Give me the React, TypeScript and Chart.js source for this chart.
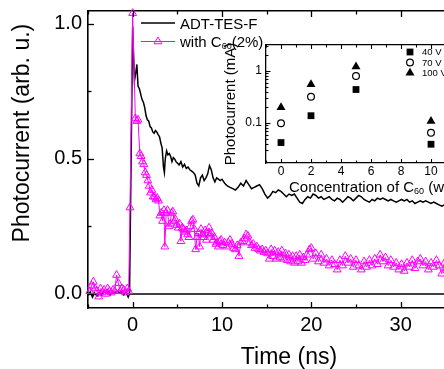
import React, { useEffect, useRef } from 'react';
import { Chart, registerables } from 'chart.js';

Chart.register(...registerables);

const FONT = '"Liberation Sans", Arial, Helvetica, sans-serif';

// ---------- Main panel data: transient photocurrent ----------
const timeA = [
  -5.0, -4.75, -4.5, -4.25, -4.0, -3.75, -3.5, -3.25, -3.0, -2.75, -2.5, -2.25, -2.0, -1.75, -1.5, -1.25, -1.0, -0.75, -0.5, -0.35,
  0.0, 0.1, 0.2, 0.35, 0.47, 0.6, 0.75, 0.9, 1.05, 1.2, 1.35, 1.5, 1.65, 1.8, 1.95, 2.1, 2.25, 2.4, 2.55, 2.7, 2.85, 3.0, 3.15, 3.3, 3.45, 3.55, 3.65, 3.8, 3.95, 4.1, 4.25, 4.4, 4.55, 4.7, 4.85,
  5.0, 5.2, 5.4, 5.6, 5.8, 6.0, 6.2, 6.4, 6.6, 6.8, 7.0, 7.2, 7.4, 7.6, 7.8, 8.0, 8.2, 8.4, 8.6, 8.8, 9.0, 9.2, 9.4, 9.6, 9.8,
  10.0, 10.3, 10.6, 10.9, 11.2, 11.5, 11.8, 12.1, 12.4, 12.7, 13.0, 13.3, 13.6, 13.9, 14.2, 14.5, 14.8, 15.1, 15.4, 15.7, 16.0, 16.3, 16.6, 16.9, 17.2, 17.5, 17.8, 18.1, 18.4, 18.7, 19.0, 19.3, 19.6, 19.9,
  20.2, 20.5, 20.8, 21.1, 21.4, 21.7, 22.0, 22.3, 22.6, 22.9, 23.2, 23.5, 23.8, 24.1, 24.4, 24.7, 25.0, 25.3, 25.6, 25.9, 26.2, 26.5, 26.8, 27.1, 27.4, 27.7, 28.0, 28.3, 28.6, 28.9, 29.2, 29.5, 29.8,
  30.1, 30.4, 30.7, 31.0, 31.3, 31.6, 31.9, 32.2, 32.5, 32.8, 33.1, 33.4, 33.7, 34.0, 34.3, 34.6, 34.9, 35.2, 35.5, 36.0, 36.5, 37.0, 37.5, 38.0, 38.5, 39.0, 39.5, 40.0,
];
const signalA = [
  -0.005, 0.008, -0.012, 0.004, -0.008, 0.006, -0.004, 0.010, 0.002, 0.009, -0.003, 0.008, 0.003, 0.011, 0.004, 0.009, -0.004, 0.007, -0.012, 0.0,
  0.99, 0.88, 0.79, 0.82, 0.85, 0.77, 0.76, 0.74, 0.72, 0.71, 0.69, 0.66, 0.645, 0.64, 0.62, 0.615, 0.60, 0.595, 0.605, 0.60, 0.59, 0.583, 0.56, 0.54, 0.47, 0.45, 0.50, 0.53, 0.515, 0.52, 0.51, 0.49, 0.505, 0.50, 0.49,
  0.485, 0.478, 0.49, 0.47, 0.48, 0.465, 0.47, 0.46, 0.455, 0.45, 0.44, 0.41, 0.40, 0.43, 0.44, 0.42, 0.43, 0.445, 0.475, 0.46, 0.43, 0.415, 0.43, 0.425, 0.42,
  0.425, 0.41, 0.40, 0.395, 0.39, 0.385, 0.395, 0.41, 0.40, 0.42, 0.405, 0.39, 0.395, 0.40, 0.405, 0.39, 0.37, 0.355, 0.365, 0.38, 0.375, 0.385, 0.38, 0.37, 0.36, 0.37, 0.365, 0.37, 0.355, 0.34, 0.335, 0.35, 0.36, 0.355,
  0.37, 0.365, 0.355, 0.36, 0.35, 0.355, 0.36, 0.35, 0.345, 0.355, 0.35, 0.34, 0.35, 0.36, 0.355, 0.345, 0.355, 0.365, 0.36, 0.35, 0.345, 0.34, 0.35, 0.345, 0.355, 0.35, 0.355, 0.35, 0.345, 0.35, 0.345, 0.34, 0.345,
  0.35, 0.345, 0.35, 0.34, 0.345, 0.335, 0.34, 0.345, 0.34, 0.345, 0.34, 0.335, 0.34, 0.335, 0.33, 0.325, 0.33, 0.325, 0.33, 0.33, 0.325, 0.33, 0.32, 0.325, 0.32, 0.325, 0.32, 0.32,
];

const timeB = [
  -4.8, -4.6, -4.4, -4.2, -4.0, -3.8, -3.6, -3.4, -3.2, -3.0, -2.8, -2.6, -2.4, -2.2, -2.0, -1.8, -1.6, -1.4, -1.2, -1.0, -0.8, -0.6, -0.45, -0.3,
  0.0, 0.3, 0.45, 0.6, 0.8, 0.95, 1.1, 1.25, 1.4, 1.55, 1.7, 1.85, 2.0, 2.15, 2.3, 2.45, 2.6, 2.75, 2.9, 3.05, 3.2, 3.35, 3.5, 3.6, 3.75, 3.9, 4.05, 4.2, 4.35, 4.5, 4.65, 4.8, 4.95,
  5.1, 5.25, 5.4, 5.55, 5.7, 5.85, 6.0, 6.15, 6.3, 6.45, 6.6, 6.75, 6.9, 7.05, 7.2, 7.35, 7.5, 7.65, 7.8, 7.95, 8.1, 8.25, 8.4, 8.55, 8.7, 8.85, 9.0, 9.15, 9.3, 9.45, 9.6, 9.75, 9.9,
  10.1, 10.3, 10.5, 10.7, 10.9, 11.1, 11.3, 11.5, 11.7, 11.9, 12.1, 12.3, 12.5, 12.7, 12.9, 13.1, 13.3, 13.5, 13.7, 13.9, 14.1, 14.3, 14.5, 14.7, 14.9,
  15.1, 15.3, 15.5, 15.7, 15.9, 16.1, 16.3, 16.5, 16.7, 16.9, 17.1, 17.3, 17.5, 17.7, 17.9, 18.1, 18.3, 18.5, 18.7, 18.9, 19.1, 19.3, 19.5, 19.8,
  20.0, 20.2, 20.5, 20.8, 21.1, 21.4, 21.7, 22.0, 22.3, 22.6, 22.9, 23.2, 23.5, 23.8, 24.1, 24.4, 24.7, 25.0, 25.3, 25.6, 25.9, 26.2, 26.5, 26.8, 27.1, 27.4, 27.7,
  28.0, 28.3, 28.6, 28.9, 29.2, 29.5, 29.8, 30.1, 30.4, 30.7, 31.0, 31.3, 31.6, 31.9, 32.2, 32.5, 32.8, 33.1, 33.4, 33.7, 34.0, 34.3, 34.6, 34.9, 35.2, 35.5,
  36.0, 36.5, 37.0, 37.5, 38.0, 38.5, 39.0, 39.5, 40.0,
];
const signalB = [
  0.01, 0.03, 0.045, 0.02, 0.01, -0.01, 0.02, 0.005, 0.015, 0.0, 0.02, 0.01, 0.005, 0.015, 0.01, 0.07, 0.04, 0.01, 0.02, 0.015, 0.005, 0.02, 0.01, 0.32,
  1.04, 0.65, 0.64, 0.645, 0.52, 0.51, 0.49, 0.48, 0.45, 0.44, 0.42, 0.40, 0.375, 0.385, 0.36, 0.36, 0.35, 0.355, 0.345, 0.29, 0.30, 0.27, 0.31, 0.175, 0.30, 0.31, 0.25, 0.26, 0.30, 0.305, 0.27, 0.275, 0.255,
  0.245, 0.26, 0.195, 0.245, 0.24, 0.23, 0.235, 0.22, 0.21, 0.25, 0.27, 0.275, 0.24, 0.165, 0.21, 0.225, 0.175, 0.24, 0.22, 0.21, 0.235, 0.20, 0.225, 0.245, 0.22, 0.225, 0.20, 0.21, 0.185, 0.19, 0.175, 0.195, 0.20,
  0.18, 0.19, 0.175, 0.19, 0.20, 0.185, 0.17, 0.165, 0.18, 0.14, 0.19, 0.195, 0.205, 0.22, 0.215, 0.19, 0.18, 0.185, 0.17, 0.175, 0.165, 0.16, 0.165, 0.155, 0.16,
  0.15, 0.13, 0.165, 0.14, 0.16, 0.13, 0.155, 0.135, 0.16, 0.13, 0.15, 0.125, 0.145, 0.12, 0.14, 0.115, 0.14, 0.12, 0.145, 0.115, 0.135, 0.125, 0.145, 0.165,
  0.17, 0.13, 0.15, 0.12, 0.145, 0.115, 0.13, 0.105, 0.125, 0.11, 0.09, 0.125, 0.105, 0.14, 0.115, 0.13, 0.10, 0.125, 0.105, 0.09, 0.12, 0.10, 0.125, 0.105, 0.13, 0.11, 0.145,
  0.12, 0.135, 0.105, 0.125, 0.10, 0.115, 0.09, 0.11, 0.085, 0.115, 0.10, 0.125, 0.095, 0.12, 0.13, 0.105, 0.12, 0.09, 0.115, 0.10, 0.125, 0.105, 0.075, 0.115, 0.095, 0.11,
  0.10, 0.11, 0.095, 0.105, 0.10, 0.095, 0.10, 0.09, 0.095,
];

const baselineTime = [-0.35, 40];
const baselineValue = [0, 0];

const seriesNames = ['ADT-TES-F', 'with C', '60', '(2%)'];
const xMajorTicks = [0, 10, 20, 30, 40];
const yMajorTicks = [0, 0.5, 1.0];

// ---------- Inset data: photocurrent vs C60 concentration ----------
const concentration = [0, 2, 5, 10];
const current40V = [0.042, 0.138, 0.44, 0.039];
const current70V = [0.099, 0.32, 0.80, 0.065];
const current100V = [0.20, 0.55, 1.21, 0.108];
const insetSeriesNames = ['40 V', '70 V', '100 V'];
const insetXLabelTicks = [0, 2, 4, 6, 8, 10, 12];
const insetYLabelTicks = [0.1, 1];

const near = (a: number, b: number) => Math.abs(a - b) < 1e-9;
const toXY = (xs: number[], ys: number[]) => xs.map((x, i) => ({ x, y: ys[i] }));

function drawMarker(ctx: CanvasRenderingContext2D, style: string, x: number, y: number, r: number, fill: string | null, stroke: string, lw: number) {
  ctx.beginPath();
  if (style === 'triangle') {
    ctx.moveTo(x, y - r);
    ctx.lineTo(x + 0.866 * r, y + 0.5 * r);
    ctx.lineTo(x - 0.866 * r, y + 0.5 * r);
    ctx.closePath();
  } else if (style === 'rect') {
    const s = Math.SQRT1_2 * r;
    ctx.rect(x - s, y - s, 2 * s, 2 * s);
  } else {
    ctx.arc(x, y, r, 0, Math.PI * 2);
  }
  if (fill) { ctx.fillStyle = fill; ctx.fill(); }
  if (lw > 0) { ctx.strokeStyle = stroke; ctx.lineWidth = lw; ctx.stroke(); }
}

function drawRich(ctx: CanvasRenderingContext2D, parts: { text: string; size: number; dy: number }[], x: number, y: number) {
  let cx = x;
  ctx.textAlign = 'left';
  ctx.textBaseline = 'alphabetic';
  ctx.fillStyle = '#000';
  for (const p of parts) {
    ctx.font = `${p.size}px ${FONT}`;
    ctx.fillText(p.text, cx, y + p.dy);
    cx += ctx.measureText(p.text).width;
  }
}

type TickSpec = { scale: string; sides: string[]; isMajor: (v: number) => boolean; keep: (v: number) => boolean; major: number; minor: number };

function makeTickPlugin(id: string, specs: TickSpec[], lw: number) {
  return {
    id,
    afterDatasetsDraw(chart: any) {
      const { ctx, chartArea: a } = chart;
      ctx.save();
      ctx.strokeStyle = '#000';
      ctx.lineWidth = lw;
      for (const spec of specs) {
        const scale = chart.scales[spec.scale];
        for (const t of scale.ticks) {
          const v = t.value;
          if (!spec.keep(v)) continue;
          const len = spec.isMajor(v) ? spec.major : spec.minor;
          const p = Math.round(scale.getPixelForValue(v)) + 0.5;
          for (const side of spec.sides) {
            ctx.beginPath();
            if (side === 'bottom') { ctx.moveTo(p, a.bottom); ctx.lineTo(p, a.bottom - len); }
            else if (side === 'top') { ctx.moveTo(p, a.top); ctx.lineTo(p, a.top + len); }
            else if (side === 'left') { ctx.moveTo(a.left, p); ctx.lineTo(a.left + len, p); }
            ctx.stroke();
          }
        }
      }
      ctx.restore();
    },
  };
}

const mainLegendPlugin = {
  id: 'mainLegend',
  afterDatasetsDraw(chart: any) {
    const { ctx, chartArea: a } = chart;
    const dsA = chart.data.datasets[0];
    const dsB = chart.data.datasets[1];
    const x0 = a.left + 53;
    const x1 = a.left + 87;
    const tx = a.left + 92;
    ctx.save();
    // row 1
    let y = a.top + 12;
    ctx.strokeStyle = dsA.borderColor;
    ctx.lineWidth = dsA.borderWidth;
    ctx.beginPath(); ctx.moveTo(x0, y); ctx.lineTo(x1, y); ctx.stroke();
    drawRich(ctx, [{ text: seriesNames[0], size: 15, dy: 0 }], tx, y + 5.5);
    // row 2
    y = a.top + 30.5;
    ctx.strokeStyle = dsB.borderColor;
    ctx.lineWidth = dsB.borderWidth;
    ctx.beginPath(); ctx.moveTo(x0, y); ctx.lineTo(x1, y); ctx.stroke();
    drawMarker(ctx, 'triangle', (x0 + x1) / 2, y, dsB.pointRadius, null, dsB.pointBorderColor, 1);
    drawRich(ctx, [
      { text: seriesNames[1], size: 15, dy: 0 },
      { text: seriesNames[2], size: 9, dy: 2 },
      { text: seriesNames[3], size: 15, dy: 0 },
    ], tx, y + 5.5);
    ctx.restore();
  },
};

const insetExtrasPlugin = {
  id: 'insetExtras',
  afterDatasetsDraw(chart: any) {
    const { ctx, chartArea: a } = chart;
    ctx.save();
    // legend
    const ds = chart.data.datasets;
    const mx = a.left + 144;
    const rows = [a.top + 7, a.top + 17.5, a.top + 28];
    ds.forEach((d: any, i: number) => {
      drawMarker(ctx, d.pointStyle, mx, rows[i], d.pointRadius, d.pointBackgroundColor, d.pointBorderColor, d.pointBorderWidth);
      drawRich(ctx, [{ text: insetSeriesNames[i], size: 9.5, dy: 0 }], mx + 12, rows[i] + 3.4);
    });
    // x-axis title with subscript
    drawRich(ctx, [
      { text: 'Concentration of C', size: 15, dy: 0 },
      { text: '60', size: 9, dy: 1.5 },
      { text: ' (wt %)', size: 15, dy: 0 },
    ], a.left + 23, a.bottom + 29);
    ctx.restore();
  },
};

function fixBox(w?: number, h?: number) {
  return (s: any) => {
    if (w !== undefined) s.width = w;
    if (h !== undefined) s.height = h;
    s.paddingTop = 0; s.paddingBottom = 0; s.paddingLeft = 0; s.paddingRight = 0;
  };
}

export default function App() {
  const mainRef = useRef<HTMLCanvasElement>(null);
  const insetRef = useRef<HTMLCanvasElement>(null);

  useEffect(() => {
    Chart.defaults.font.family = FONT;
    Chart.defaults.color = '#000';
    const border = { display: true, color: '#000', width: 1.6 };
    const noGrid = { drawOnChartArea: false, drawTicks: false };

    const mainTicks = makeTickPlugin('mainTicks', [
      { scale: 'x', sides: ['bottom', 'top'], isMajor: (v) => v % 10 === 0, keep: () => true, major: 6, minor: 3.5 },
      { scale: 'y', sides: ['left'], isMajor: (v) => yMajorTicks.some((m) => near(m, v)), keep: () => true, major: 6, minor: 3.5 },
    ], 1.3);

    const main = new Chart(mainRef.current as HTMLCanvasElement, {
      type: 'line',
      data: {
        datasets: [
          { label: seriesNames[0], data: toXY(timeA, signalA), borderColor: '#000', borderWidth: 1.5, pointRadius: 0, tension: 0, order: 2 },
          {
            label: seriesNames.slice(1).join(''), data: toXY(timeB, signalB), borderColor: '#ff00ff', borderWidth: 1,
            pointStyle: 'triangle', pointRadius: 4.5, pointBorderColor: '#ff00ff', pointBackgroundColor: 'rgba(0,0,0,0)',
            pointBorderWidth: 1, tension: 0, order: 1, clip: false,
          },
          { label: 'baseline', data: toXY(baselineTime, baselineValue), borderColor: '#000', borderWidth: 1.5, pointRadius: 0, order: 3 },
        ],
      } as any,
      options: {
        responsive: false,
        animation: false,
        devicePixelRatio: 1,
        events: [],
        layout: { padding: { left: 0, top: 0, right: 10, bottom: 0 } },
        plugins: { legend: { display: false }, tooltip: { enabled: false } },
        scales: {
          x: {
            type: 'linear', position: 'bottom', min: -5, max: 40,
            afterFit: fixBox(undefined, 61),
            ticks: {
              stepSize: 5, includeBounds: false, autoSkip: false, maxRotation: 0, padding: 5,
              font: { family: FONT, size: 20 }, color: '#000',
              callback: (v: any) => (xMajorTicks.includes(Number(v)) ? String(v) : ''),
            },
            grid: noGrid, border,
            title: { display: true, text: 'Time (ns)', font: { family: FONT, size: 23, lineHeight: 1 }, padding: 0, color: '#000' },
          },
          x2: {
            type: 'linear', position: 'top', min: -5, max: 40,
            afterFit: fixBox(undefined, 11),
            ticks: { display: false, stepSize: 5 },
            grid: noGrid, border,
          },
          y: {
            type: 'linear', position: 'left', min: -0.052, max: 1.048,
            afterFit: fixBox(88, undefined),
            ticks: {
              stepSize: 0.25, includeBounds: false, autoSkip: false, padding: 6,
              font: { family: FONT, size: 20 }, color: '#000',
              callback: (v: any) => (yMajorTicks.some((m) => near(m, Number(v))) ? Number(v).toFixed(1) : ''),
            },
            grid: noGrid, border,
            title: {
              display: true, text: 'Photocurrent (arb. u.)  ', align: 'end',
              font: { family: FONT, size: 23, lineHeight: 1 }, padding: { top: 11, bottom: 0 }, color: '#000',
            },
          },
        },
      } as any,
      plugins: [mainTicks, mainLegendPlugin],
    });

    const insetTicks = makeTickPlugin('insetTicks', [
      { scale: 'x', sides: ['bottom', 'top'], isMajor: (v) => v % 2 === 0, keep: () => true, major: 4, minor: 2.5 },
      {
        scale: 'y', sides: ['left'],
        isMajor: (v) => insetYLabelTicks.some((m) => near(m, v)),
        keep: (v) => { const e = Math.pow(10, Math.floor(Math.log10(v) + 1e-9)); const s = v / e; return Math.abs(s - Math.round(s)) < 1e-6; },
        major: 4.5, minor: 2.5,
      },
    ], 1.1);

    const insetBorder = { display: true, color: '#000', width: 1.3 };
    const inset = new Chart(insetRef.current as HTMLCanvasElement, {
      type: 'scatter',
      data: {
        datasets: [
          { label: insetSeriesNames[0], data: toXY(concentration, current40V), pointStyle: 'rect', pointRadius: 4.8, pointBackgroundColor: '#000', pointBorderColor: '#000', pointBorderWidth: 0 },
          { label: insetSeriesNames[1], data: toXY(concentration, current70V), pointStyle: 'circle', pointRadius: 3.4, pointBackgroundColor: '#fff', pointBorderColor: '#000', pointBorderWidth: 1.2 },
          { label: insetSeriesNames[2], data: toXY(concentration, current100V), pointStyle: 'triangle', pointRadius: 5.2, pointBackgroundColor: '#000', pointBorderColor: '#000', pointBorderWidth: 0 },
        ],
      } as any,
      options: {
        responsive: false,
        animation: false,
        devicePixelRatio: 1,
        events: [],
        layout: { padding: { left: 215, top: 45, right: 39, bottom: 174 } },
        plugins: { legend: { display: false }, tooltip: { enabled: false } },
        scales: {
          x: {
            type: 'linear', position: 'bottom', min: -1, max: 12,
            afterFit: fixBox(undefined, 32),
            ticks: {
              stepSize: 1, includeBounds: false, autoSkip: false, maxRotation: 0, padding: 1,
              font: { family: FONT, size: 12 }, color: '#000',
              callback: (v: any) => (insetXLabelTicks.includes(Number(v)) ? String(v) : ''),
            },
            grid: noGrid, border: insetBorder,
          },
          x2: {
            type: 'linear', position: 'top', min: -1, max: 12,
            afterFit: fixBox(undefined, 0),
            ticks: { display: false },
            grid: noGrid, border: insetBorder,
          },
          y: {
            type: 'logarithmic', position: 'left', min: 0.017, max: 3.16,
            afterFit: fixBox(51, undefined),
            ticks: {
              autoSkip: false, padding: 4, font: { family: FONT, size: 12 }, color: '#000',
              callback: (v: any) => {
                const n = Number(v);
                const m = insetYLabelTicks.find((t) => near(t, n));
                return m !== undefined ? String(m) : '';
              },
            },
            grid: noGrid, border: insetBorder,
            title: { display: true, text: 'Photocurrent (mA)', font: { family: FONT, size: 15, lineHeight: 1 }, padding: { top: 8, bottom: 0 }, color: '#000' },
          },
        },
      } as any,
      plugins: [insetTicks, insetExtrasPlugin],
    });

    return () => { main.destroy(); inset.destroy(); };
  }, []);

  return (
    <div style={{ position: 'fixed', left: 0, top: 0, width: 444, height: 369, overflow: 'hidden', background: '#fff' }}>
      <canvas ref={mainRef} width={500} height={369} style={{ position: 'absolute', left: 0, top: 0 }} />
      <canvas ref={insetRef} width={500} height={369} style={{ position: 'absolute', left: 0, top: 0 }} />
    </div>
  );
}
